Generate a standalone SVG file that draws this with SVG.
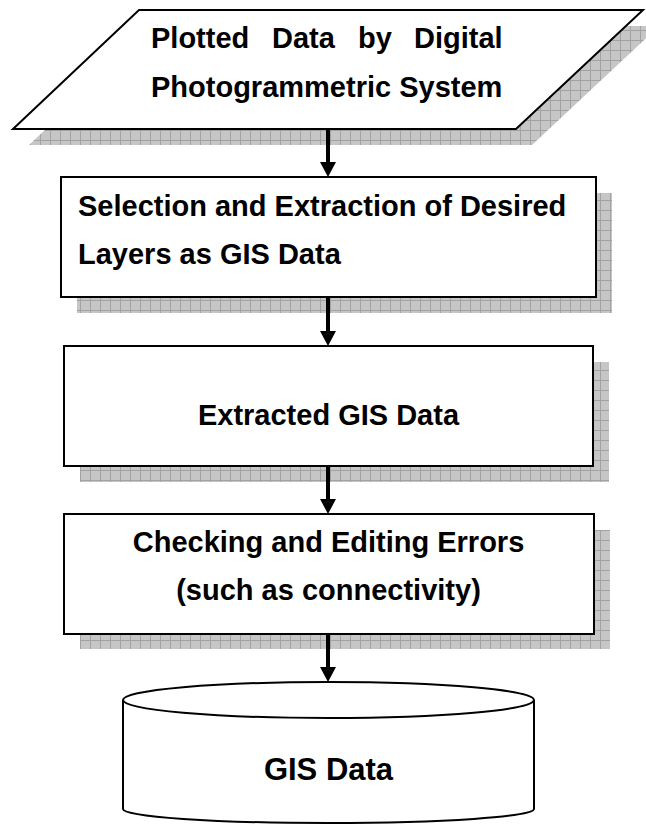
<svg xmlns="http://www.w3.org/2000/svg" width="646" height="824" viewBox="0 0 646 824">
<style>
.t{font-family:"Liberation Sans",Arial,sans-serif;font-weight:bold;font-size:29px;fill:#000}
.c{text-anchor:middle}
.box{fill:#fff;stroke:#000;stroke-width:2}
.sh{fill:url(#grid);stroke:none}
.conn{stroke:#000;stroke-width:4;fill:none;marker-end:url(#ah)}
</style>
<defs>
<pattern id="grid" x="0" y="0" width="10" height="10" patternUnits="userSpaceOnUse">
<rect width="10" height="10" fill="#c6c6c6"/>
<path d="M0,0.5H10M0.5,0V10" stroke="#a2a2a2" stroke-width="1"/>
</pattern>
<marker id="ah" markerUnits="userSpaceOnUse" markerWidth="16" markerHeight="16" refX="0" refY="8" orient="auto" viewBox="0 0 15 16">
<path d="M0,0L15,8L0,16z" fill="#000"/>
</marker>
</defs>
<g id="n1">
<polygon class="sh" points="155,26 659,26 532,145 29,145"/>
<polygon class="box" points="139,10 643,10 516,129 13,129"/>
<text class="t" y="48"><tspan x="151">Plotted</tspan><tspan x="272">Data</tspan><tspan x="358">by</tspan><tspan x="414">Digital</tspan></text>
<text class="t" x="151" y="97">Photogrammetric System</text>
</g>
<g id="n2">
<rect class="sh" x="77" y="193" width="535" height="120"/>
<rect class="box" x="61" y="177" width="535" height="120"/>
<text class="t" x="78" y="216">Selection and Extraction of Desired</text>
<text class="t" x="78" y="264">Layers as GIS Data</text>
</g>
<g id="n3">
<rect class="sh" x="80" y="362" width="529" height="120"/>
<rect class="box" x="64" y="346" width="529" height="120"/>
<text class="t c" x="328.5" y="425">Extracted GIS Data</text>
</g>
<g id="n4">
<rect class="sh" x="80" y="530" width="530" height="119"/>
<rect class="box" x="64" y="514" width="530" height="120"/>
<text class="t c" x="328.5" y="552">Checking and Editing Errors</text>
<text class="t c" x="328.5" y="600">(such as connectivity)</text>
</g>
<g id="n5">
<path class="box" d="M123,700V809A205.5,14 0 0 0 534,809V700"/>
<ellipse class="box" cx="328.5" cy="700" rx="205.5" ry="18"/>
<text class="t c" x="328.5" y="780" style="font-size:31px">GIS Data</text>
</g>
<g id="connectors">
<path class="conn" d="M328,129V162"/>
<path class="conn" d="M328,297V331"/>
<path class="conn" d="M328,466V499"/>
<path class="conn" d="M328,634V667"/>
</g>
</svg>
